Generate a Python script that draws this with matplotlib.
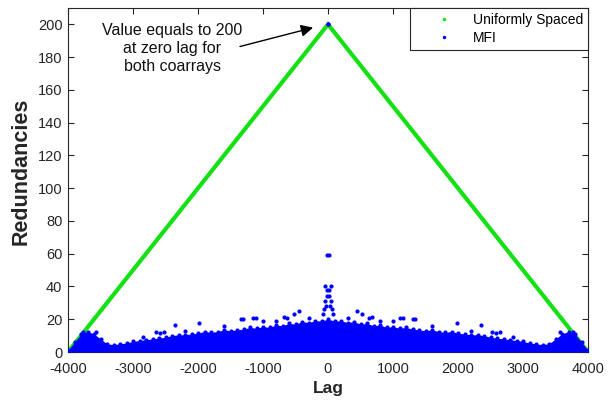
import numpy as np
import matplotlib
matplotlib.use('Agg')
import matplotlib.pyplot as plt
from matplotlib.lines import Line2D

plt.rcParams['font.family'] = ['Liberation Sans', 'DejaVu Sans']
plt.rcParams['axes.unicode_minus'] = False

# Uniformly spaced coarray (triangle vertices)
uni_lag = [-4000, 0, 4000]
uni_val = [0, 200, 0]

# MFI coarray: upper edge of the dense band (symmetric in lag), |lag| step 100
env_lag = [0, 100, 200, 300, 400, 500, 600, 700, 800, 900, 1000,
           1100, 1200, 1300, 1400, 1500, 1600, 1700, 1800, 1900, 2000,
           2100, 2200, 2300, 2400, 2500, 2600, 2700, 2800, 2900, 3000,
           3100, 3200, 3300, 3400, 3500, 3600, 3700, 3800, 3900, 4000]
env_val = [20, 19, 19, 18, 18.5, 17, 17.5, 16, 16.5, 15, 15.5,
           14.5, 15, 14, 13.5, 13, 13.5, 12.5, 12, 12.5, 11.5,
           11, 10.5, 10.5, 10, 9, 8.5, 8, 7.5, 7, 6.5,
           5.5, 5, 4.5, 5, 8, 11, 12.5, 11, 6, 1]

# MFI isolated points above the band (|lag|, value)
out_lag = [450, 520, 630, 670, 1000, 1110, 1150, 1310, 1340, 1980, 2360,
           2520, 2590, 2650, 2850, 3570, 3770, 300, 800, 1600, 2200]
out_val = [25, 23.5, 21, 21.6, 19, 20.6, 20.5, 20, 20, 17.5, 16.5,
           12.4, 11.5, 12, 9.4, 12.4, 12, 21, 19, 16, 13]

# MFI values around zero lag (|lag|, value)
spike_lag = [0, 15, 40, 15, 20, 40, 30, 60, 80]
spike_val = [200, 59, 40, 38, 34, 31, 28, 26, 23]

green = '#14e014'
blue = '#0000ff'
dark = '#262626'

fig = plt.figure(figsize=(6.16, 4.0), dpi=100)
ax = fig.add_axes([68/616, 1-352/400, (588-68)/616, (352-8)/400])

ax.plot(uni_lag, uni_val, color=green, lw=3.0, solid_joinstyle='miter', zorder=2)

el = np.array(env_lag, dtype=float)
ev = np.array(env_val, dtype=float)
lags = np.concatenate([-el[::-1], el[1:]])
vals = np.concatenate([ev[::-1], ev[1:]])
ax.fill_between(lags, 0, vals, color=blue, lw=0, zorder=3)
ax.plot(lags, vals, 'o', color=blue, ms=3, mew=0, zorder=3)

ol = np.array(out_lag, dtype=float)
ov = np.array(out_val, dtype=float)
ax.plot(np.concatenate([ol, -ol]), np.concatenate([ov, ov]), 'o', color=blue, ms=3, mew=0, zorder=3)

sl = np.array(spike_lag, dtype=float)
sv = np.array(spike_val, dtype=float)
ax.plot(np.concatenate([sl, -sl]), np.concatenate([sv, sv]), 'o', color=blue, ms=3, mew=0, zorder=4)

ax.set_xlim(-4000, 4000)
ax.set_ylim(0, 210)
ax.set_xticks(np.arange(-4000, 4001, 1000))
ax.set_yticks(np.arange(0, 201, 20))
ax.tick_params(direction='in', top=True, right=True, length=4, width=0.8,
               colors=dark, labelsize=10.5)
ax.tick_params(axis='x', pad=7)
ax.tick_params(axis='y', pad=4)
for s in ax.spines.values():
    s.set_color(dark)
    s.set_linewidth(0.8)

fig.text(328/616, 1-388/400, 'Lag', fontsize=12.5, fontweight='bold', color=dark,
         ha='center', va='center')
fig.text(21/616, 1-171/400, 'Redundancies', fontsize=15.5, fontweight='bold', color=dark,
         ha='center', va='center', rotation=90)

ax.text(-2400, 185, 'Value equals to 200\nat zero lag for\nboth coarrays',
        ha='center', va='center', fontsize=11.5, color='#111111',
        linespacing=1.25)
ax.annotate('', xy=(-230, 198), xytext=(-1354, 186.5),
            arrowprops=dict(arrowstyle='-|>', color='black', lw=1.0,
                            mutation_scale=18, shrinkA=0, shrinkB=0))

handles = [Line2D([], [], color=green, marker='o', ms=2.5, ls='none', mew=0),
           Line2D([], [], color=blue, marker='o', ms=2.5, ls='none', mew=0)]
leg = ax.legend(handles, ['Uniformly Spaced', 'MFI'], loc='upper right',
                borderaxespad=0, fontsize=10, fancybox=False, framealpha=1,
                edgecolor=dark, handlelength=4.2, handletextpad=0.0,
                borderpad=0.35, labelspacing=0.3)
leg.get_frame().set_linewidth(0.8)

fig.savefig('out.png', dpi=100)
